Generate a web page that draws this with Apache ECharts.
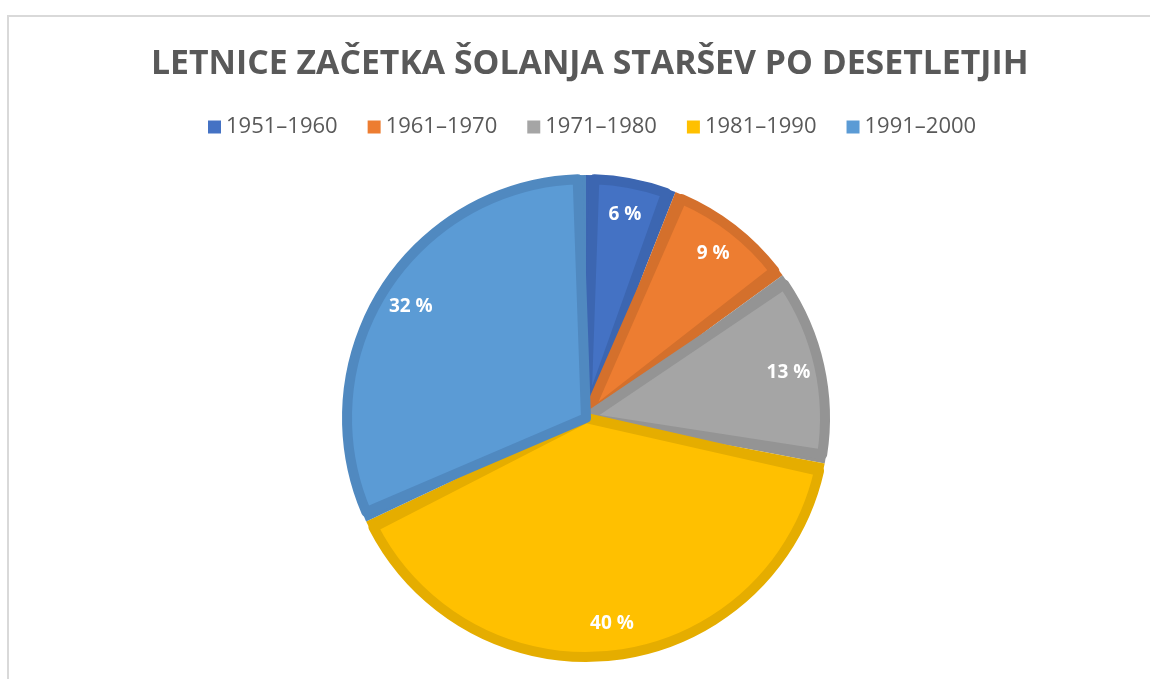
<title>Letnice začetka šolanja staršev</title>
<script src="https://cdn.jsdelivr.net/npm/echarts@6/dist/echarts.min.js"></script>
<style>
    html, body { margin: 0; padding: 0; background: #fff; }
    #chart { width: 1150px; height: 679px; }
</style>
<div id="chart"></div>
<script type="text/javascript">
    // data
    var decades = ['1951–1960', '1961–1970', '1971–1980', '1981–1990', '1991–2000'];
    var shares = [6, 9, 13, 40, 32];
    var fills = ['#4472C4', '#ED7D31', '#A5A5A5', '#FFC000', '#5B9BD5'];
    var edges = ['#3C66B1', '#D4702C', '#949494', '#E5AD00', '#5089C0'];

    var myChart = echarts.init(document.getElementById('chart'));

    function sliceData(colors, strokes) {
        return decades.map(function (name, i) {
            var style = {color: colors ? colors[i] : 'transparent'};
            if (strokes) style.borderColor = strokes[i];
            return {name: name, value: shares[i], itemStyle: style};
        });
    }

    var option = {
        backgroundColor: '#fff',
        animation: false,
        title: {
            text: 'LETNICE ZAČETKA ŠOLANJA STARŠEV PO DESETLETJIH',
            left: 146,
            top: 42,
            textStyle: {
                fontFamily: 'Open Sans',
                fontSize: 33.8,
                fontWeight: 'bold',
                color: '#595959'
            }
        },
        legend: {
            top: 111,
            left: 203,
            icon: 'rect',
            itemWidth: 13,
            itemHeight: 13,
            itemGap: 30,
            textStyle: {fontFamily: 'Open Sans', fontSize: 22, color: '#595959'},
            data: decades.map(function (name, i) {
                return {name: name, itemStyle: {color: fills[i], borderWidth: 0}};
            })
        },
        graphic: [{
            type: 'rect',
            shape: {x: 8, y: 16, width: 1400, height: 900},
            style: {fill: 'none', stroke: '#d9d9d9', lineWidth: 2},
            silent: true
        }],
        series: [
            {
                // darker rim of each slice
                type: 'pie',
                center: [586, 418],
                radius: [0, 243],
                startAngle: 90,
                silent: true,
                label: {show: false},
                labelLine: {show: false},
                emphasis: {disabled: true},
                data: sliceData(edges)
            },
            {
                // lighter body, pulled in from the rim and the seams
                type: 'pie',
                center: [586, 418],
                radius: [0, 239],
                startAngle: 90,
                padAngle: 4,
                itemStyle: {borderWidth: 10},
                label: {show: false},
                labelLine: {show: false},
                emphasis: {disabled: true},
                data: sliceData(fills, edges)
            },
            {
                // transparent ring, only used to put the labels out near the rim
                type: 'pie',
                center: [586, 418],
                radius: [166, 243],
                startAngle: 90,
                silent: true,
                itemStyle: {borderWidth: 0},
                label: {
                    show: true,
                    position: 'inside',
                    formatter: function (p) { return p.value + ' %'; },
                    fontFamily: 'Open Sans',
                    fontSize: 19,
                    fontWeight: 'bold',
                    color: '#fff'
                },
                labelLine: {show: false},
                emphasis: {disabled: true},
                data: sliceData(null)
            }
        ]
    };
    myChart.setOption(option, true);
</script>
